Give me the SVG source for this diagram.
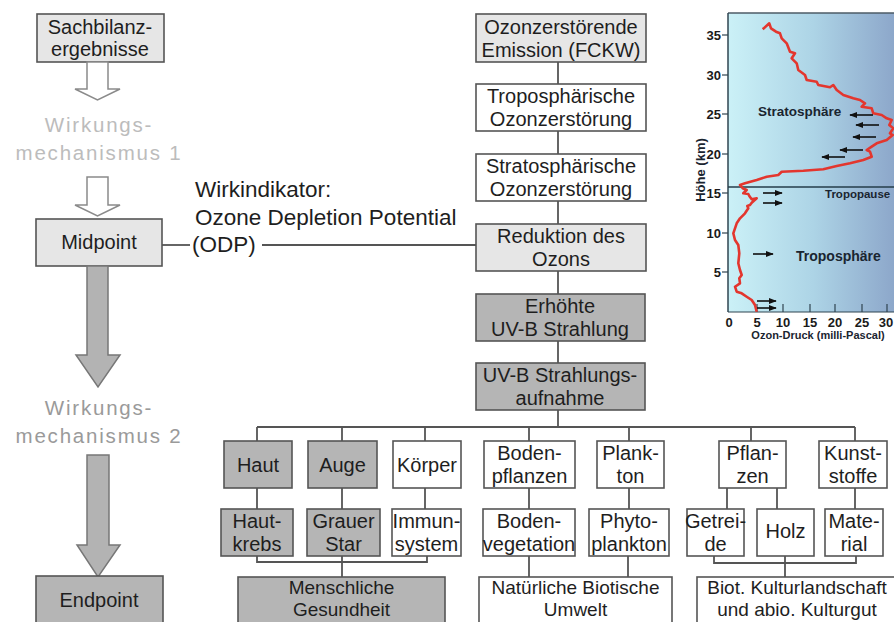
<svg xmlns="http://www.w3.org/2000/svg" width="894" height="622" viewBox="0 0 894 622">
  <defs>
    <linearGradient id="skyGrad" x1="0" y1="0" x2="1" y2="0">
      <stop offset="0" stop-color="#cbf1f7"/>
      <stop offset="0.5" stop-color="#add4e6"/>
      <stop offset="1" stop-color="#8ba5c9"/>
    </linearGradient>
    <marker id="ah" viewBox="0 0 10 10" refX="9" refY="5" markerWidth="5" markerHeight="5" orient="auto">
      <path d="M0,1 L10,5 L0,9 z" fill="#111"/>
    </marker>
    <style>
      text { font-family: "Liberation Sans", Arial, sans-serif; }
      .box { stroke: #555; stroke-width: 1.6; }
      .light { fill: #e6e6e6; }
      .white { fill: #ffffff; }
      .dark { fill: #b5b5b5; }
      .t { font-size: 20px; fill: #1e1e1e; text-anchor: middle; }
      .tb { font-size: 19px; fill: #1e1e1e; text-anchor: middle; }
      .conn line, .conn polyline { stroke: #555; stroke-width: 1.8; fill: none; }
      .hollow { fill: #ffffff; stroke: #8a8a8a; stroke-width: 1.5; }
      .solid { fill: #b3b3b3; stroke: #777; stroke-width: 1.5; }
      .mech { font-size: 20.5px; text-anchor: middle; letter-spacing: 1.8px; }
      .ind { font-size: 22.5px; fill: #1e1e1e; }
      .ax { font-size: 13px; font-weight: bold; fill: #1a1a1a; }
      .lbl { font-weight: bold; fill: #1a2530; }
      .arr { stroke: #111; stroke-width: 1.6; marker-end: url(#ah); }
    </style>
  </defs>

  <!-- left column: inventory -> midpoint -> endpoint -->
  <g id="sachbilanz">
    <rect class="box light" x="37" y="14" width="127" height="48"/>
    <text class="t" x="100" y="34">Sachbilanz-</text>
    <text class="t" x="100" y="56">ergebnisse</text>
  </g>
  <g id="arrow-1">
    <path class="hollow" d="M87,62 H108 V89 H120 L97.5,100 L75,89 H87 Z"/>
  </g>
  <g id="mechanismus-1">
    <text class="mech" x="99" y="132" fill="#bcbcbc">Wirkungs-</text>
    <text class="mech" x="99" y="160" fill="#bcbcbc">mechanismus 1</text>
  </g>
  <g id="arrow-2">
    <path class="hollow" d="M87,177 H108 V205 H120 L97.5,216 L75,205 H87 Z"/>
  </g>
  <g id="midpoint">
    <rect class="box light" x="36" y="219" width="126" height="47"/>
    <text class="t" x="99" y="249">Midpoint</text>
  </g>
  <g id="arrow-3">
    <path class="solid" d="M87,266 H108 V355 H120 L98,387 L76,355 H87 Z"/>
  </g>
  <g id="mechanismus-2">
    <text class="mech" x="99" y="415" fill="#9a9a9a">Wirkungs-</text>
    <text class="mech" x="99" y="443" fill="#9a9a9a">mechanismus 2</text>
  </g>
  <g id="arrow-4">
    <path class="solid" d="M87,455 H109 V545 H120 L98,577 L77,545 H87 Z"/>
  </g>
  <g id="endpoint">
    <rect class="box dark" x="36" y="576" width="127" height="56"/>
    <text class="t" x="99" y="607">Endpoint</text>
  </g>

  <!-- indicator label -->
  <g id="wirkindikator">
    <text class="ind" x="195" y="197">Wirkindikator:</text>
    <text class="ind" x="195" y="225">Ozone Depletion Potential</text>
    <text class="ind" x="192" y="252">(ODP)</text>
  </g>

  <!-- connectors -->
  <g id="connectors" class="conn">
    <line x1="162" y1="245" x2="190" y2="245"/>
    <line x1="262" y1="245" x2="476" y2="245"/>
    <line x1="558" y1="62" x2="558" y2="84"/>
    <line x1="558" y1="131" x2="558" y2="154"/>
    <line x1="558" y1="201" x2="558" y2="224"/>
    <line x1="558" y1="271" x2="558" y2="294"/>
    <line x1="558" y1="341" x2="558" y2="363"/>
    <line x1="558" y1="410" x2="558" y2="427"/>
    <line x1="257" y1="427" x2="855" y2="427"/>
    <line x1="257" y1="427" x2="257" y2="441"/>
    <line x1="342" y1="427" x2="342" y2="441"/>
    <line x1="425" y1="427" x2="425" y2="441"/>
    <line x1="529" y1="427" x2="529" y2="441"/>
    <line x1="629" y1="427" x2="629" y2="441"/>
    <line x1="751" y1="427" x2="751" y2="441"/>
    <line x1="855" y1="427" x2="855" y2="441"/>
    <line x1="257" y1="488" x2="257" y2="509"/>
    <line x1="342" y1="488" x2="342" y2="509"/>
    <line x1="425" y1="488" x2="425" y2="509"/>
    <line x1="529" y1="488" x2="529" y2="509"/>
    <line x1="629" y1="488" x2="629" y2="509"/>
    <line x1="727" y1="488" x2="727" y2="509"/>
    <line x1="777" y1="488" x2="777" y2="509"/>
    <line x1="855" y1="488" x2="855" y2="509"/>
    <polyline points="257,556 257,562 427,562 427,556"/>
    <line x1="342" y1="556" x2="342" y2="577"/>
    <line x1="529" y1="556" x2="529" y2="577"/>
    <line x1="628" y1="556" x2="628" y2="577"/>
    <polyline points="714,556 714,563 856,563 856,556"/>
    <line x1="785" y1="556" x2="785" y2="577"/>
  </g>

  <!-- central chain -->
  <g id="emission">
    <rect class="box light" x="476" y="14" width="170" height="48"/>
    <text class="t" x="561" y="34">Ozonzerstörende</text>
    <text class="t" x="561" y="57">Emission (FCKW)</text>
  </g>
  <g id="tropo-zerstoerung">
    <rect class="box white" x="476" y="84" width="170" height="47"/>
    <text class="t" x="561" y="103">Troposphärische</text>
    <text class="t" x="561" y="126">Ozonzerstörung</text>
  </g>
  <g id="strato-zerstoerung">
    <rect class="box white" x="476" y="154" width="170" height="47"/>
    <text class="t" x="561" y="173">Stratosphärische</text>
    <text class="t" x="561" y="196">Ozonzerstörung</text>
  </g>
  <g id="reduktion">
    <rect class="box light" x="476" y="224" width="170" height="47"/>
    <text class="t" x="561" y="243">Reduktion des</text>
    <text class="t" x="561" y="266">Ozons</text>
  </g>
  <g id="uvb-erhoeht">
    <rect class="box dark" x="476" y="294" width="169" height="47"/>
    <text class="t" x="560" y="313">Erhöhte</text>
    <text class="t" x="560" y="336">UV-B Strahlung</text>
  </g>
  <g id="uvb-aufnahme">
    <rect class="box dark" x="476" y="363" width="169" height="47"/>
    <text class="t" x="560" y="382">UV-B Strahlungs-</text>
    <text class="t" x="560" y="405">aufnahme</text>
  </g>

  <!-- receptors -->
  <g id="haut">
    <rect class="box dark" x="224" y="441" width="68" height="47"/>
    <text class="t" x="258" y="472">Haut</text>
  </g>
  <g id="auge">
    <rect class="box dark" x="308" y="441" width="69" height="47"/>
    <text class="t" x="342.5" y="472">Auge</text>
  </g>
  <g id="koerper">
    <rect class="box white" x="393" y="441" width="68" height="47"/>
    <text class="t" x="427" y="472">Körper</text>
  </g>
  <g id="bodenpflanzen">
    <rect class="box white" x="484" y="441" width="91" height="47"/>
    <text class="t" x="529.5" y="460">Boden-</text>
    <text class="t" x="529.5" y="483">pflanzen</text>
  </g>
  <g id="plankton">
    <rect class="box white" x="597" y="441" width="67" height="47"/>
    <text class="t" x="630.5" y="460">Plank-</text>
    <text class="t" x="630.5" y="483">ton</text>
  </g>
  <g id="pflanzen">
    <rect class="box white" x="719" y="441" width="67" height="47"/>
    <text class="t" x="752.5" y="460">Pflan-</text>
    <text class="t" x="752.5" y="483">zen</text>
  </g>
  <g id="kunststoffe">
    <rect class="box white" x="819" y="441" width="68" height="47"/>
    <text class="t" x="853" y="460">Kunst-</text>
    <text class="t" x="853" y="483">stoffe</text>
  </g>

  <!-- effects -->
  <g id="hautkrebs">
    <rect class="box dark" x="221" y="509" width="72" height="47"/>
    <text class="t" x="257" y="528">Haut-</text>
    <text class="t" x="257" y="551">krebs</text>
  </g>
  <g id="grauer-star">
    <rect class="box dark" x="307" y="509" width="73" height="47"/>
    <text class="t" x="343.5" y="528">Grauer</text>
    <text class="t" x="343.5" y="551">Star</text>
  </g>
  <g id="immunsystem">
    <rect class="box white" x="392" y="509" width="69" height="47"/>
    <text class="t" x="426.5" y="528">Immun-</text>
    <text class="t" x="426.5" y="551">system</text>
  </g>
  <g id="bodenvegetation">
    <rect class="box white" x="483" y="509" width="92" height="47"/>
    <text class="t" x="529" y="528">Boden-</text>
    <text class="t" x="529" y="551">vegetation</text>
  </g>
  <g id="phytoplankton">
    <rect class="box white" x="589" y="509" width="80" height="47"/>
    <text class="t" x="629" y="528">Phyto-</text>
    <text class="t" x="629" y="551">plankton</text>
  </g>
  <g id="getreide">
    <rect class="box white" x="687" y="509" width="57" height="47"/>
    <text class="t" x="715.5" y="528">Getrei-</text>
    <text class="t" x="715.5" y="551">de</text>
  </g>
  <g id="holz">
    <rect class="box white" x="757" y="509" width="57" height="47"/>
    <text class="t" x="785.5" y="538">Holz</text>
  </g>
  <g id="material">
    <rect class="box white" x="825" y="509" width="58" height="47"/>
    <text class="t" x="854" y="528">Mate-</text>
    <text class="t" x="854" y="551">rial</text>
  </g>

  <!-- areas of protection -->
  <g id="menschliche-gesundheit">
    <rect class="box dark" x="238" y="577" width="207" height="56"/>
    <text class="tb" x="341.5" y="594">Menschliche</text>
    <text class="tb" x="341.5" y="616">Gesundheit</text>
  </g>
  <g id="biotische-umwelt">
    <rect class="box white" x="479" y="577" width="193" height="56"/>
    <text class="tb" x="575.5" y="594">Natürliche Biotische</text>
    <text class="tb" x="575.5" y="616">Umwelt</text>
  </g>
  <g id="kulturgut">
    <rect class="box white" x="697" y="577" width="205" height="56"/>
    <text class="tb" x="797" y="594">Biot. Kulturlandschaft</text>
    <text class="tb" x="797" y="616">und abio. Kulturgut</text>
  </g>

  <!-- ozone profile chart -->
  <g id="ozone-chart">
    <rect x="728" y="13" width="170" height="299" fill="url(#skyGrad)"/>
    <line x1="728" y1="13" x2="894" y2="13" stroke="#4d5b66" stroke-width="1.5"/>
    <line x1="728" y1="13" x2="728" y2="312" stroke="#2f4450" stroke-width="1.5"/>
    <line x1="728" y1="312" x2="894" y2="312" stroke="#2f4450" stroke-width="1"/>
    <line x1="728" y1="187" x2="894" y2="187" stroke="#243c4a" stroke-width="1.5"/>
    <g stroke="#2f4450" stroke-width="1.2">
      <line x1="722" y1="35" x2="728" y2="35"/>
      <line x1="722" y1="75" x2="728" y2="75"/>
      <line x1="722" y1="114" x2="728" y2="114"/>
      <line x1="722" y1="154" x2="728" y2="154"/>
      <line x1="722" y1="193" x2="728" y2="193"/>
      <line x1="722" y1="233" x2="728" y2="233"/>
      <line x1="722" y1="272" x2="728" y2="272"/>
      <line x1="757" y1="304" x2="757" y2="312"/>
      <line x1="783" y1="304" x2="783" y2="312"/>
      <line x1="810" y1="304" x2="810" y2="312"/>
      <line x1="835" y1="304" x2="835" y2="312"/>
      <line x1="862" y1="304" x2="862" y2="312"/>
      <line x1="887" y1="304" x2="887" y2="312"/>
    </g>
    <g class="ax" text-anchor="end">
      <text x="721" y="40">35</text>
      <text x="721" y="80">30</text>
      <text x="721" y="119">25</text>
      <text x="721" y="159">20</text>
      <text x="721" y="198">15</text>
      <text x="721" y="238">10</text>
      <text x="721" y="277">5</text>
    </g>
    <g class="ax" text-anchor="middle">
      <text x="729" y="327">0</text>
      <text x="757" y="327">5</text>
      <text x="783" y="327">10</text>
      <text x="810" y="327">15</text>
      <text x="835" y="327">20</text>
      <text x="862" y="327">25</text>
      <text x="886" y="327">30</text>
    </g>
    <text class="lbl" x="818" y="339" font-size="11" text-anchor="middle">Ozon-Druck (milli-Pascal)</text>
    <text class="lbl" x="0" y="0" font-size="13" text-anchor="middle" transform="translate(705,170) rotate(-90)">Höhe (km)</text>
    <text class="lbl" x="758" y="116" font-size="13.5">Stratosphäre</text>
    <text class="lbl" x="796" y="261" font-size="14">Troposphäre</text>
    <text class="lbl" x="825" y="198" font-size="11.5">Tropopause</text>
    <polyline fill="none" stroke="#e3362e" stroke-width="2.6" stroke-linejoin="round" points="762.7,29.3 769.3,23.3 771,28.3 776,31.7 780,33.3 781.7,38.3 786.7,43.3 790,51.7 795,53.3 791.7,58.3 796.7,63.3 798.3,70 805,75 806.7,80 816.7,81.7 818.3,85 830,87.3 833.3,85 836.7,90 843.3,95 853.3,98.3 860,100 865,103.3 861.7,106.7 871.7,108.3 873.3,113.3 881.7,115 886.7,118.3 891.7,120 889.3,125 893.3,128.3 890,133.3 892.7,135 886.7,140 876.7,143.3 871.7,146.7 866.7,150 870,151.7 871.7,156.7 863.3,160 850,163.3 836.7,166 823.3,169.3 803.3,170.7 781.7,171.7 778.3,175 766.7,176.7 756.7,180 745,183.3 740,185 742.7,188.3 746.7,190 743.3,193.3 748.3,194 749.3,196 751.7,199.3 756.7,198.3 751.7,202.7 750,205 747.3,206 748.3,208.3 745,213.3 740,218.3 736.7,223.3 735,228.3 733.3,233.3 735,240 738.3,245 739.3,253.3 738.3,263.3 740,270 741.7,275 739.3,278.3 740,283.3 735,286.7 736.7,291.7 741.7,293.3 746.7,296.7 751.7,300 755,305 756.7,311.7"/>
    <g>
      <line class="arr" x1="873" y1="115" x2="850" y2="115"/>
      <line class="arr" x1="879" y1="125" x2="856" y2="125"/>
      <line class="arr" x1="876" y1="137" x2="853" y2="137"/>
      <line class="arr" x1="863" y1="150" x2="840" y2="150"/>
      <line class="arr" x1="845" y1="157" x2="822" y2="157"/>
      <line class="arr" x1="763" y1="193" x2="782" y2="193"/>
      <line class="arr" x1="763" y1="203" x2="782" y2="203"/>
      <line class="arr" x1="753" y1="254" x2="773" y2="254"/>
      <line class="arr" x1="757" y1="301" x2="776" y2="301"/>
      <line class="arr" x1="757" y1="308" x2="776" y2="308"/>
    </g>
  </g>
</svg>
